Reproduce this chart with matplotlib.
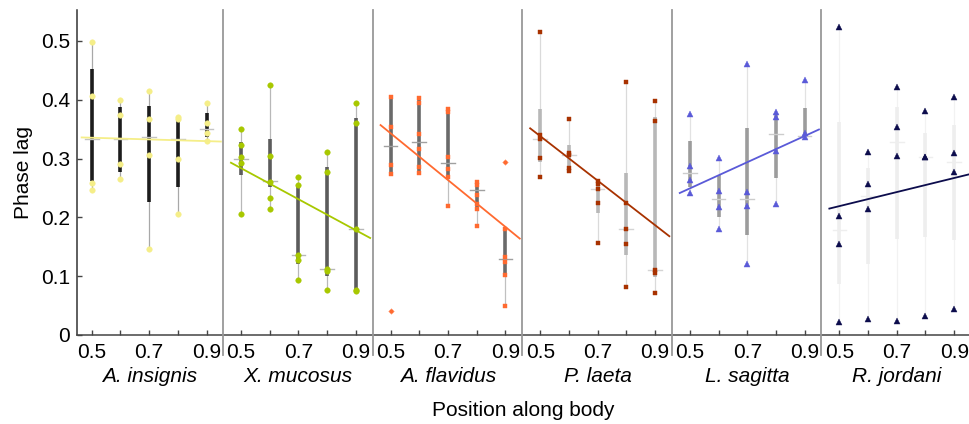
import matplotlib
matplotlib.use('Agg')
import matplotlib.pyplot as plt
from matplotlib.lines import Line2D
import numpy as np

plt.rcParams['font.family'] = ['Liberation Sans', 'DejaVu Sans']

# ---------------- data ----------------
positions = [0.5, 0.6, 0.7, 0.8, 0.9]
tick_labels = ['0.5', '', '0.7', '', '0.9']
species = ['A. insignis', 'X. mucosus', 'A. flavidus', 'P. laeta', 'L. sagitta', 'R. jordani']

pts_insignis = [[0.499, 0.407, 0.259, 0.247],
                [0.399, 0.374, 0.291, 0.266],
                [0.415, 0.367, 0.306, 0.147],
                [0.370, 0.367, 0.299, 0.206],
                [0.395, 0.360, 0.344, 0.330]]
q1_insignis = [0.262, 0.278, 0.227, 0.252, 0.337]
q3_insignis = [0.452, 0.387, 0.389, 0.366, 0.377]
med_insignis = [0.333, 0.333, 0.336, 0.333, 0.351]
fit_insignis = [0.336, 0.329]

pts_mucosus = [[0.350, 0.323, 0.302, 0.293, 0.205],
               [0.426, 0.304, 0.261, 0.233, 0.215],
               [0.268, 0.255, 0.136, 0.128, 0.094],
               [0.312, 0.277, 0.112, 0.108, 0.077],
               [0.395, 0.361, 0.181, 0.077, 0.075]]
q1_mucosus = [0.272, 0.252, 0.120, 0.101, 0.077]
q3_mucosus = [0.329, 0.334, 0.252, 0.285, 0.369]
med_mucosus = [0.300, 0.262, 0.136, 0.112, 0.181]
fit_mucosus = [0.293, 0.165]

pts_flavidus = [[0.404, 0.354, 0.289, 0.273],
                [0.403, 0.395, 0.341, 0.317, 0.286, 0.276],
                [0.385, 0.380, 0.303, 0.283, 0.269, 0.219],
                [0.260, 0.255, 0.238, 0.223, 0.214, 0.185],
                [0.180, 0.132, 0.125, 0.102, 0.050]]
out_flavidus = [[0.041], [], [], [], [0.294]]
q1_flavidus = [0.273, 0.275, 0.269, 0.213, 0.102]
q3_flavidus = [0.404, 0.405, 0.386, 0.262, 0.181]
med_flavidus = [0.321, 0.329, 0.293, 0.246, 0.129]
fit_flavidus = [0.357, 0.164]

pts_laeta = [[0.515, 0.340, 0.333, 0.301, 0.269],
             [0.367, 0.310, 0.306, 0.284, 0.279],
             [0.262, 0.256, 0.248, 0.225, 0.156],
             [0.430, 0.224, 0.180, 0.154, 0.082],
             [0.398, 0.364, 0.111, 0.106, 0.071]]
q1_laeta = [0.294, 0.278, 0.208, 0.136, 0.099]
q3_laeta = [0.384, 0.323, 0.264, 0.275, 0.371]
med_laeta = [0.333, 0.306, 0.248, 0.180, 0.111]
fit_laeta = [0.3515, 0.168]

pts_sagitta = [[0.376, 0.288, 0.264, 0.242],
               [0.301, 0.245, 0.218, 0.181],
               [0.461, 0.243, 0.220, 0.120],
               [0.380, 0.371, 0.313, 0.222],
               [0.433, 0.343, 0.336]]
q1_sagitta = [0.252, 0.200, 0.170, 0.267, 0.337]
q3_sagitta = [0.330, 0.272, 0.352, 0.374, 0.386]
med_sagitta = [0.275, 0.231, 0.231, 0.341, 0.338]
fit_sagitta = [0.2415, 0.3495]

pts_jordani = [[0.524, 0.202, 0.155, 0.022],
               [0.312, 0.257, 0.214, 0.028],
               [0.422, 0.354, 0.304, 0.024],
               [0.381, 0.303, 0.302, 0.033],
               [0.405, 0.310, 0.278, 0.045]]
q1_jordani = [0.087, 0.120, 0.163, 0.166, 0.162]
q3_jordani = [0.363, 0.284, 0.388, 0.343, 0.357]
med_jordani = [0.179, 0.237, 0.329, 0.303, 0.294]
fit_jordani = [0.215, 0.273]

fit_x = [0.465, 0.95]

all_pts = [pts_insignis, pts_mucosus, pts_flavidus, pts_laeta, pts_sagitta, pts_jordani]
all_q1 = [q1_insignis, q1_mucosus, q1_flavidus, q1_laeta, q1_sagitta, q1_jordani]
all_q3 = [q3_insignis, q3_mucosus, q3_flavidus, q3_laeta, q3_sagitta, q3_jordani]
all_med = [med_insignis, med_mucosus, med_flavidus, med_laeta, med_sagitta, med_jordani]
all_fit = [fit_insignis, fit_mucosus, fit_flavidus, fit_laeta, fit_sagitta, fit_jordani]
all_out = [None, None, out_flavidus, None, None, None]

# ---------------- styles ----------------
colors = ['#f5ee88', '#a8c800', '#ff6a30', '#a83200', '#5a5ad8', '#0c0c4c']
markers = ['o', 'o', 's', 's', '^', '^']
msizes = [4.0, 4.0, 3.4, 3.4, 4.0, 4.0]
bar_colors = ['#1c1c1c', '#5c5c5c', '#6a6a6a', '#b8b8b8', '#9c9c9c', '#eeeeee']
whisker_colors = ['#a8a8a8', '#b8b8b8', '#c0c0c0', '#dadada', '#e2e2e2', '#f2f2f2']
median_colors = ['#c4c4c4', '#b8b8b8', '#a0a0a0', '#d4d4d4', '#cccccc', '#eeeeee']

W, H = 969, 424
fig = plt.figure(figsize=(W / 100, H / 100), dpi=100)
FS = 15

ppu = 287.0                       # pixels per data unit on x
y_bot, y_top = 335.0, 10.0        # pixel rows of axis bottom / top
bounds = [77.3, 223.0, 372.6, 522.2, 671.8, 821.4, 971.0]
ylim = (0.0, (y_bot - y_top) / 588.0)

axes = []
for i in range(6):
    left, right = bounds[i], bounds[i + 1]
    xlo = 0.5 - (91.7 - 77.3) / ppu if i == 0 else 0.5 - 18.0 / ppu
    xhi = xlo + (right - left) / ppu
    ax = fig.add_axes([left / W, (H - y_bot) / H, (right - left) / W, (y_bot - y_top) / H])
    ax.set_xlim(xlo, xhi)
    ax.set_ylim(*ylim)
    ax.patch.set_alpha(0)
    for s in ['top', 'right']:
        ax.spines[s].set_visible(False)
    ax.spines['bottom'].set_color('#444444')
    ax.spines['bottom'].set_linewidth(1.1)
    if i == 0:
        ax.spines['left'].set_color('#333333')
        ax.spines['left'].set_linewidth(1.1)
        ax.set_yticks([0, 0.1, 0.2, 0.3, 0.4, 0.5])
        ax.set_yticklabels(['0', '0.1', '0.2', '0.3', '0.4', '0.5'], fontsize=FS)
        ax.set_ylabel('Phase lag', fontsize=FS, labelpad=6)
    else:
        ax.spines['left'].set_visible(False)
        ax.set_yticks([])
    ax.set_xticks(positions)
    ax.set_xticklabels(tick_labels, fontsize=FS)
    ax.tick_params(axis='both', direction='in', length=3.5, width=1.0, color='#444444', pad=6)
    ax.tick_params(axis='y', pad=5)

    pts = all_pts[i]
    for j, x in enumerate(positions):
        vals = pts[j]
        lo, hi = min(vals), max(vals)
        ax.plot([x, x], [lo, hi], color=whisker_colors[i], lw=0.9, zorder=1, solid_capstyle='butt')
        ax.plot([x, x], [all_q1[i][j], all_q3[i][j]], color=bar_colors[i], lw=2.6,
                zorder=2, solid_capstyle='butt')
        ax.plot([x - 0.024, x + 0.024], [all_med[i][j], all_med[i][j]],
                color=median_colors[i], lw=1.0, zorder=3)
    ax.plot(fit_x, all_fit[i], color=colors[i], lw=1.3, zorder=4)
    for j, x in enumerate(positions):
        vals = pts[j]
        ax.plot([x] * len(vals), vals, linestyle='none', marker=markers[i],
                ms=msizes[i], mfc=colors[i], mec=colors[i], mew=0.3, zorder=5)
        if all_out[i] is not None and all_out[i][j]:
            ov = all_out[i][j]
            ax.plot([x] * len(ov), ov, linestyle='none', marker='o', ms=3.0,
                    mfc=colors[i], mec=colors[i], mew=0.2, zorder=5)
            ax.plot([x] * len(ov), ov, linestyle='none', marker='+', ms=4.2,
                    mew=0.6, color=colors[i], alpha=0.7, zorder=5)
    ax.text(0.7, -0.127, species[i], transform=ax.get_xaxis_transform(),
            ha='center', va='center', fontsize=FS, style='italic')
    axes.append(ax)

# gray panel dividers
for b in bounds[1:6]:
    fig.add_artist(Line2D([b / W, b / W], [(H - 355) / H, (H - y_top) / H],
                          transform=fig.transFigure, color='#999999', lw=1.3))

fig.text(523 / W, (H - 410) / H, 'Position along body', ha='center', va='center', fontsize=FS)

fig.savefig('out.png', dpi=100)
